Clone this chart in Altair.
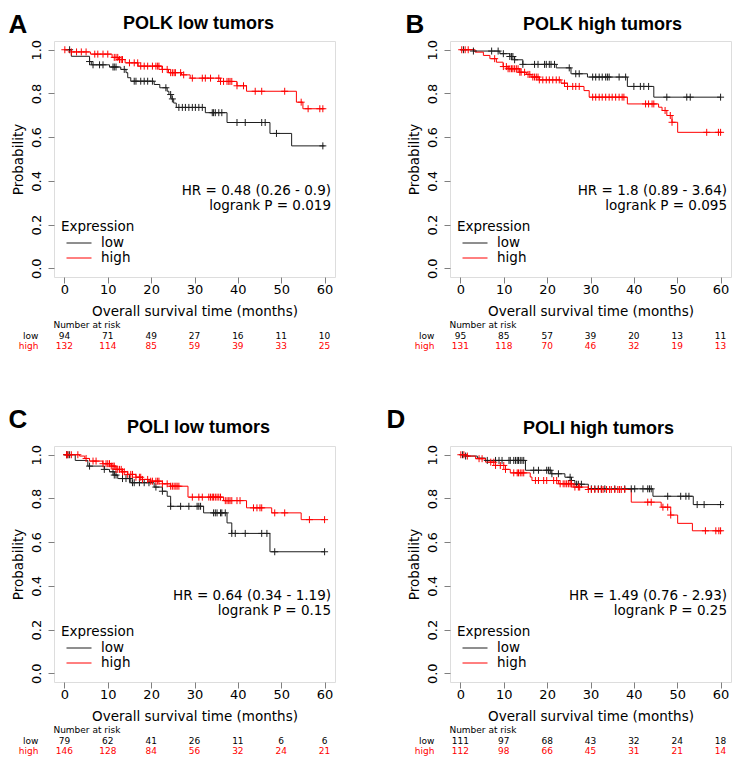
import altair as alt
import pandas as pd

# ---------------- data ----------------
TIME_TICKS = [0, 10, 20, 30, 40, 50, 60]
PROB_TICKS = [0.0, 0.2, 0.4, 0.6, 0.8, 1.0]
GROUPS = ["low", "high"]

LETTERS = ["A", "B", "C", "D"]
TITLES = ["POLK low tumors", "POLK high tumors", "POLI low tumors", "POLI high tumors"]
HR_TEXT = ["HR = 0.48 (0.26 - 0.9)", "HR = 1.8 (0.89 - 3.64)",
           "HR = 0.64 (0.34 - 1.19)", "HR = 1.49 (0.76 - 2.93)"]
P_TEXT = ["logrank P = 0.019", "logrank P = 0.095", "logrank P = 0.15", "logrank P = 0.25"]

# Panel A (POLK low tumors)
A_LOW_T = [0, 1.6, 5.8, 6.2, 10.4, 13.0, 14.2, 14.6, 15.3, 20.7, 22.0, 23.7, 24.1, 24.6, 25.2, 25.8, 32.5, 37.5, 47.4, 52.4, 60]
A_LOW_S = [1.0, 0.97, 0.946, 0.931, 0.921, 0.91, 0.895, 0.872, 0.856, 0.841, 0.826, 0.81, 0.795, 0.775, 0.756, 0.736, 0.712, 0.667, 0.617, 0.56, 0.56]
A_LOW_C = [1.2, 5.8, 6.6, 8.1, 8.9, 11.2, 11.5, 11.9, 13.8, 16.1, 16.5, 17.6, 18.4, 19.2, 20.3, 23.4, 24.5, 24.9, 26.4, 27.2, 27.9, 28.7, 29.5, 30.2, 31.0, 31.8, 34.1, 34.4, 34.8, 35.6, 36.3, 39.8, 41.7, 45.5, 46.3, 48.9, 59.6]
A_HIGH_T = [0, 1.6, 6.0, 11.0, 12.5, 14.0, 17.0, 22.5, 24.0, 27.0, 29.0, 36.0, 39.8, 42.0, 53.5, 55.0, 60]
A_HIGH_S = [1.0, 0.99, 0.98, 0.965, 0.955, 0.94, 0.925, 0.91, 0.895, 0.885, 0.87, 0.855, 0.835, 0.81, 0.76, 0.73, 0.73]
A_HIGH_C = [0.1, 1.6, 2.8, 3.9, 5.0, 7.0, 7.7, 8.9, 10.0, 11.5, 11.9, 12.3, 12.7, 13.1, 13.4, 15.0, 16.1, 16.9, 17.6, 18.4, 19.2, 20.3, 21.1, 21.5, 21.8, 22.6, 23.7, 24.5, 24.9, 25.3, 25.6, 26.8, 27.5, 29.5, 31.8, 32.5, 33.7, 35.6, 36.0, 36.7, 37.5, 37.9, 38.2, 38.6, 39.8, 41.3, 44.0, 45.5, 50.8, 54.6, 56.2, 58.9, 59.6]
A_RISK_LOW = [94, 71, 49, 27, 16, 11, 10]
A_RISK_HIGH = [132, 114, 85, 59, 39, 33, 25]

# Panel B (POLK high tumors)
B_LOW_T = [0, 3.0, 9.1, 11.4, 12.5, 14.4, 22.1, 25.5, 29.3, 38.5, 44.6, 60]
B_LOW_S = [1.0, 0.994, 0.982, 0.969, 0.954, 0.933, 0.917, 0.89, 0.875, 0.832, 0.783, 0.783]
B_LOW_C = [0.7, 3.0, 7.2, 8.7, 9.9, 11.4, 11.8, 12.1, 12.5, 14.4, 17.1, 17.9, 19.4, 19.8, 20.5, 20.9, 21.7, 25.1, 26.6, 27.4, 30.5, 31.2, 32.0, 32.7, 33.5, 33.9, 34.3, 36.6, 38.1, 40.0, 41.5, 42.3, 43.4, 47.6, 52.2, 53.0, 60.0]
B_HIGH_T = [0, 3.4, 5.3, 6.8, 8.3, 9.85, 11.0, 13.7, 15.2, 16.3, 18.2, 23.2, 24.7, 28.5, 29.7, 38.5, 45.7, 46.5, 47.6, 48.8, 50.1, 60]
B_HIGH_S = [1.0, 0.989, 0.974, 0.959, 0.943, 0.923, 0.913, 0.897, 0.887, 0.875, 0.862, 0.847, 0.832, 0.813, 0.783, 0.752, 0.737, 0.722, 0.699, 0.668, 0.622, 0.622]
B_HIGH_C = [0.3, 1.1, 1.8, 7.9, 9.9, 10.6, 11.0, 11.4, 11.8, 12.1, 12.5, 12.9, 13.3, 13.7, 14.0, 14.8, 15.6, 16.0, 16.7, 17.1, 17.5, 17.9, 18.2, 19.0, 19.8, 20.5, 21.3, 22.1, 22.8, 24.0, 24.7, 25.9, 26.6, 27.4, 30.5, 31.2, 32.0, 32.7, 33.5, 34.3, 35.0, 35.8, 36.6, 37.3, 37.7, 42.7, 43.4, 44.2, 44.6, 47.2, 48.4, 48.8, 56.8, 59.5, 60.0]
B_RISK_LOW = [95, 85, 57, 39, 20, 13, 11]
B_RISK_HIGH = [131, 118, 70, 46, 32, 19, 13]

# Panel C (POLI low tumors)
C_LOW_T = [0, 2.5, 5.4, 9.2, 10.4, 11.5, 12.3, 15.3, 20.7, 22.6, 23.7, 24.5, 32.1, 37.5, 38.6, 47.4, 60]
C_LOW_S = [1.0, 0.974, 0.948, 0.933, 0.922, 0.907, 0.891, 0.872, 0.852, 0.833, 0.81, 0.764, 0.734, 0.688, 0.64, 0.556, 0.556]
C_LOW_C = [0.5, 0.8, 1.2, 5.8, 9.2, 11.2, 11.5, 11.9, 13.4, 14.2, 15.0, 15.7, 16.1, 17.3, 18.4, 19.5, 21.1, 22.6, 24.5, 26.8, 28.7, 30.6, 31.0, 31.4, 34.4, 34.8, 35.2, 36.0, 36.3, 37.1, 38.6, 39.4, 41.7, 45.5, 46.7, 48.5, 60.0]
C_HIGH_T = [0, 3.5, 4.7, 5.8, 8.85, 10.8, 11.9, 13.4, 14.6, 16.5, 18.0, 19.9, 22.6, 24.5, 28.5, 36.7, 42.0, 47.8, 54.6, 60]
C_HIGH_S = [1.0, 0.994, 0.983, 0.971, 0.959, 0.948, 0.933, 0.922, 0.91, 0.897, 0.887, 0.879, 0.867, 0.856, 0.806, 0.79, 0.757, 0.734, 0.703, 0.703]
C_HIGH_C = [0.5, 0.8, 1.6, 3.1, 5.0, 6.6, 7.3, 8.9, 9.6, 10.0, 10.4, 10.8, 11.2, 11.5, 11.9, 12.3, 12.7, 13.1, 13.4, 13.8, 14.6, 15.3, 15.7, 16.5, 17.3, 17.6, 18.0, 19.2, 19.9, 20.3, 21.1, 21.5, 21.8, 22.6, 23.7, 24.5, 24.9, 25.3, 25.7, 26.0, 26.4, 29.5, 31.0, 31.8, 33.3, 33.7, 34.1, 34.4, 34.8, 35.2, 35.6, 36.0, 37.1, 37.5, 37.9, 38.2, 38.6, 39.8, 40.5, 43.6, 44.4, 45.1, 45.5, 48.5, 50.8, 56.5, 60.0]
C_RISK_LOW = [79, 62, 41, 26, 11, 6, 6]
C_RISK_HIGH = [146, 128, 84, 56, 32, 24, 21]

# Panel D (POLI high tumors)
D_LOW_T = [0, 1.2, 3.9, 5.8, 15.0, 20.9, 24.1, 25.6, 26.4, 29.5, 44.4, 53.7, 60]
D_LOW_S = [1.0, 0.994, 0.985, 0.974, 0.929, 0.913, 0.897, 0.882, 0.865, 0.844, 0.81, 0.772, 0.772]
D_LOW_C = [0.5, 1.2, 6.2, 8.1, 8.9, 9.6, 11.2, 11.5, 12.3, 12.7, 13.1, 13.4, 13.8, 14.2, 14.6, 16.9, 18.0, 19.9, 20.3, 20.7, 21.1, 22.6, 25.3, 25.6, 26.8, 27.2, 27.9, 30.2, 31.0, 31.8, 32.5, 33.3, 35.6, 37.9, 39.4, 40.2, 42.1, 43.2, 43.6, 44.0, 47.8, 50.8, 52.0, 52.7, 54.6, 56.2, 60.0]
D_HIGH_T = [0, 1.6, 3.5, 5.8, 8.1, 10.4, 11.5, 16.1, 16.5, 22.6, 26.0, 29.5, 39.4, 46.3, 48.5, 50.1, 53.5, 60]
D_HIGH_S = [1.0, 0.994, 0.982, 0.966, 0.951, 0.933, 0.917, 0.898, 0.882, 0.867, 0.852, 0.841, 0.783, 0.76, 0.724, 0.686, 0.652, 0.652]
D_HIGH_C = [0.1, 0.8, 1.6, 4.3, 5.0, 7.0, 7.7, 8.1, 9.2, 10.0, 10.4, 12.3, 13.1, 13.4, 13.8, 14.2, 14.6, 17.3, 18.0, 19.2, 19.9, 21.5, 22.2, 23.0, 23.7, 24.1, 24.5, 24.9, 25.3, 25.6, 26.4, 27.2, 27.5, 29.5, 30.2, 31.0, 31.8, 32.5, 32.9, 33.7, 34.4, 34.8, 35.6, 36.3, 36.7, 37.1, 37.9, 43.2, 44.0, 46.7, 47.8, 48.5, 56.5, 58.9, 59.6, 60.0]
D_RISK_LOW = [111, 97, 68, 43, 32, 24, 18]
D_RISK_HIGH = [112, 98, 66, 45, 31, 21, 14]

# ---------------- layout / style ----------------
W, H = 281, 236
LOW_COLOR = "#1e1e1e"
HIGH_COLOR = "#ff0000"
FRAME = "#7f7f7f"
FONT = "DejaVu Sans"
BOLD_FONT = "Liberation Sans"
# per panel: letter (x, baseline y), title (center x, baseline y)
LETTER_POS = [(-45.5, -8), (-44.5, -8), (-45.5, -18.5), (-63.5, -18.5)]
TITLE_POS = [(144.5, -12), (152.5, -11), (144.5, -13.5), (148.5, -12.5)]

xs = alt.Scale(domain=[-2.4, 62.4], nice=False, zero=False)
ys = alt.Scale(domain=[-0.04, 1.04], nice=False, zero=False)
cs = alt.Scale(domain=GROUPS, range=[LOW_COLOR, HIGH_COLOR])


def step_value(ts, ss, c):
    v = ss[0]
    for t, s in zip(ts, ss):
        if t <= c:
            v = s
    return v


def panel(i, low_t, low_s, low_c, high_t, high_s, high_c, risk_low, risk_high):
    steps = pd.DataFrame({
        "time": low_t + high_t,
        "surv": low_s + high_s,
        "group": ["low"] * len(low_t) + ["high"] * len(high_t),
    })
    cens = pd.DataFrame({
        "time": low_c + high_c,
        "surv": [step_value(low_t, low_s, c) for c in low_c] + [step_value(high_t, high_s, c) for c in high_c],
        "group": ["low"] * len(low_c) + ["high"] * len(high_c),
    })
    xaxis = alt.Axis(values=TIME_TICKS, title="Overall survival time (months)", grid=False, domain=False,
                     tickColor=FRAME, tickSize=6, labelFont=FONT, labelFontSize=13, labelColor="black",
                     labelPadding=0, titleFont=FONT, titleFontSize=13.5, titleFontWeight="normal",
                     titleColor="black", titlePadding=8)
    yaxis = alt.Axis(values=PROB_TICKS, format=".1f", title="Probability", grid=False, domain=False,
                     tickColor=FRAME, tickSize=6, labelFont=FONT, labelFontSize=13, labelColor="black",
                     labelAngle=270, labelAlign="center", labelBaseline="bottom", labelPadding=4.5,
                     titleFont=FONT, titleFontSize=13.5, titleFontWeight="normal", titleColor="black",
                     titlePadding=5)
    legend = alt.Legend(orient="none", legendX=7, legendY=179, title="Expression", titleFont=FONT,
                        titleFontSize=13.5, titleFontWeight="normal", titleColor="black", titlePadding=2,
                        labelFont=FONT, labelFontSize=13.5, labelColor="black", symbolType="stroke",
                        symbolStrokeWidth=1, symbolSize=625, symbolOffset=5, labelOffset=9,
                        rowPadding=0, clipHeight=15, padding=0)
    lines = alt.Chart(steps).mark_line(interpolate="step-after", strokeWidth=1).encode(
        x=alt.X("time:Q", scale=xs, axis=xaxis),
        y=alt.Y("surv:Q", scale=ys, axis=yaxis),
        color=alt.Color("group:N", scale=cs, legend=legend),
    )
    pts = alt.Chart(cens).mark_point(shape="M-1,0L1,0M0,-1L0,1", size=49, strokeWidth=1,
                                      filled=False, opacity=1).encode(
        x=alt.X("time:Q", scale=xs),
        y=alt.Y("surv:Q", scale=ys),
        color=alt.Color("group:N", scale=cs, legend=None),
    )
    risk_df = pd.DataFrame({"time": TIME_TICKS * 2, "n": risk_low + risk_high,
                            "group": ["low"] * 7 + ["high"] * 7})
    risk_low_l = alt.Chart(risk_df).transform_filter(alt.datum.group == "low").mark_text(
        font=FONT, fontSize=9, baseline="middle", color="black").encode(
        x=alt.X("time:Q", scale=xs), y=alt.value(H + 59), text="n:Q")
    risk_high_l = alt.Chart(risk_df).transform_filter(alt.datum.group == "high").mark_text(
        font=FONT, fontSize=9, baseline="middle", color=HIGH_COLOR).encode(
        x=alt.X("time:Q", scale=xs), y=alt.value(H + 69), text="n:Q")
    lab_df = pd.DataFrame({"lab": ["Number at risk", "low", "high"], "t": [0, 0, 0]})
    nar = alt.Chart(lab_df).transform_filter(alt.datum.lab == "Number at risk").mark_text(
        font=FONT, fontSize=9, baseline="middle", align="left", dx=-11, color="black").encode(
        x=alt.X("t:Q", scale=xs), y=alt.value(H + 48), text="lab:N")
    rl = alt.Chart(lab_df).transform_filter(alt.datum.lab == "low").mark_text(
        font=FONT, fontSize=9, baseline="middle", align="right", dx=-26, color="black").encode(
        x=alt.X("t:Q", scale=xs), y=alt.value(H + 59), text="lab:N")
    rh = alt.Chart(lab_df).transform_filter(alt.datum.lab == "high").mark_text(
        font=FONT, fontSize=9, baseline="middle", align="right", dx=-26, color=HIGH_COLOR).encode(
        x=alt.X("t:Q", scale=xs), y=alt.value(H + 69), text="lab:N")
    ann_df = pd.DataFrame({"txt": [HR_TEXT[i], P_TEXT[i]]})
    hr = alt.Chart(ann_df).transform_filter(alt.datum.txt == HR_TEXT[i]).mark_text(
        font=FONT, fontSize=13.5, align="right", baseline="middle", color="black").encode(
        x=alt.value(W - 4), y=alt.value(150), text="txt:N")
    pv = alt.Chart(ann_df).transform_filter(alt.datum.txt == P_TEXT[i]).mark_text(
        font=FONT, fontSize=13.5, align="right", baseline="middle", color="black").encode(
        x=alt.value(W - 4), y=alt.value(165), text="txt:N")
    head_df = pd.DataFrame({"txt": [LETTERS[i], TITLES[i]]})
    let = alt.Chart(head_df).transform_filter(alt.datum.txt == LETTERS[i]).mark_text(
        font=BOLD_FONT, fontSize=26, fontWeight="bold", align="left", baseline="alphabetic",
        color="black").encode(
        x=alt.value(LETTER_POS[i][0]), y=alt.value(LETTER_POS[i][1]), text="txt:N")
    ttl = alt.Chart(head_df).transform_filter(alt.datum.txt == TITLES[i]).mark_text(
        font=BOLD_FONT, fontSize=18, fontWeight="bold", align="center", baseline="alphabetic",
        color="black").encode(
        x=alt.value(TITLE_POS[i][0]), y=alt.value(TITLE_POS[i][1]), text="txt:N")
    return alt.layer(lines, pts, risk_low_l, risk_high_l, nar, rl, rh, hr, pv, let, ttl).properties(
        width=W, height=H)


pA = panel(0, A_LOW_T, A_LOW_S, A_LOW_C, A_HIGH_T, A_HIGH_S, A_HIGH_C, A_RISK_LOW, A_RISK_HIGH)
pB = panel(1, B_LOW_T, B_LOW_S, B_LOW_C, B_HIGH_T, B_HIGH_S, B_HIGH_C, B_RISK_LOW, B_RISK_HIGH)
pC = panel(2, C_LOW_T, C_LOW_S, C_LOW_C, C_HIGH_T, C_HIGH_S, C_HIGH_C, C_RISK_LOW, C_RISK_HIGH)
pD = panel(3, D_LOW_T, D_LOW_S, D_LOW_C, D_HIGH_T, D_HIGH_S, D_HIGH_C, D_RISK_LOW, D_RISK_HIGH)

chart = alt.concat(pA, pB, pC, pD, columns=2, spacing={"row": 169, "column": 115},
                   bounds="flush").resolve_scale(color="independent").resolve_legend(
    color="independent").properties(
    padding={"left": 0, "top": 3, "right": 0, "bottom": 0}
).configure_view(stroke=FRAME, strokeWidth=1).configure(background="white")

chart.save("out.html", embed_options={"renderer": "svg", "actions": False})
